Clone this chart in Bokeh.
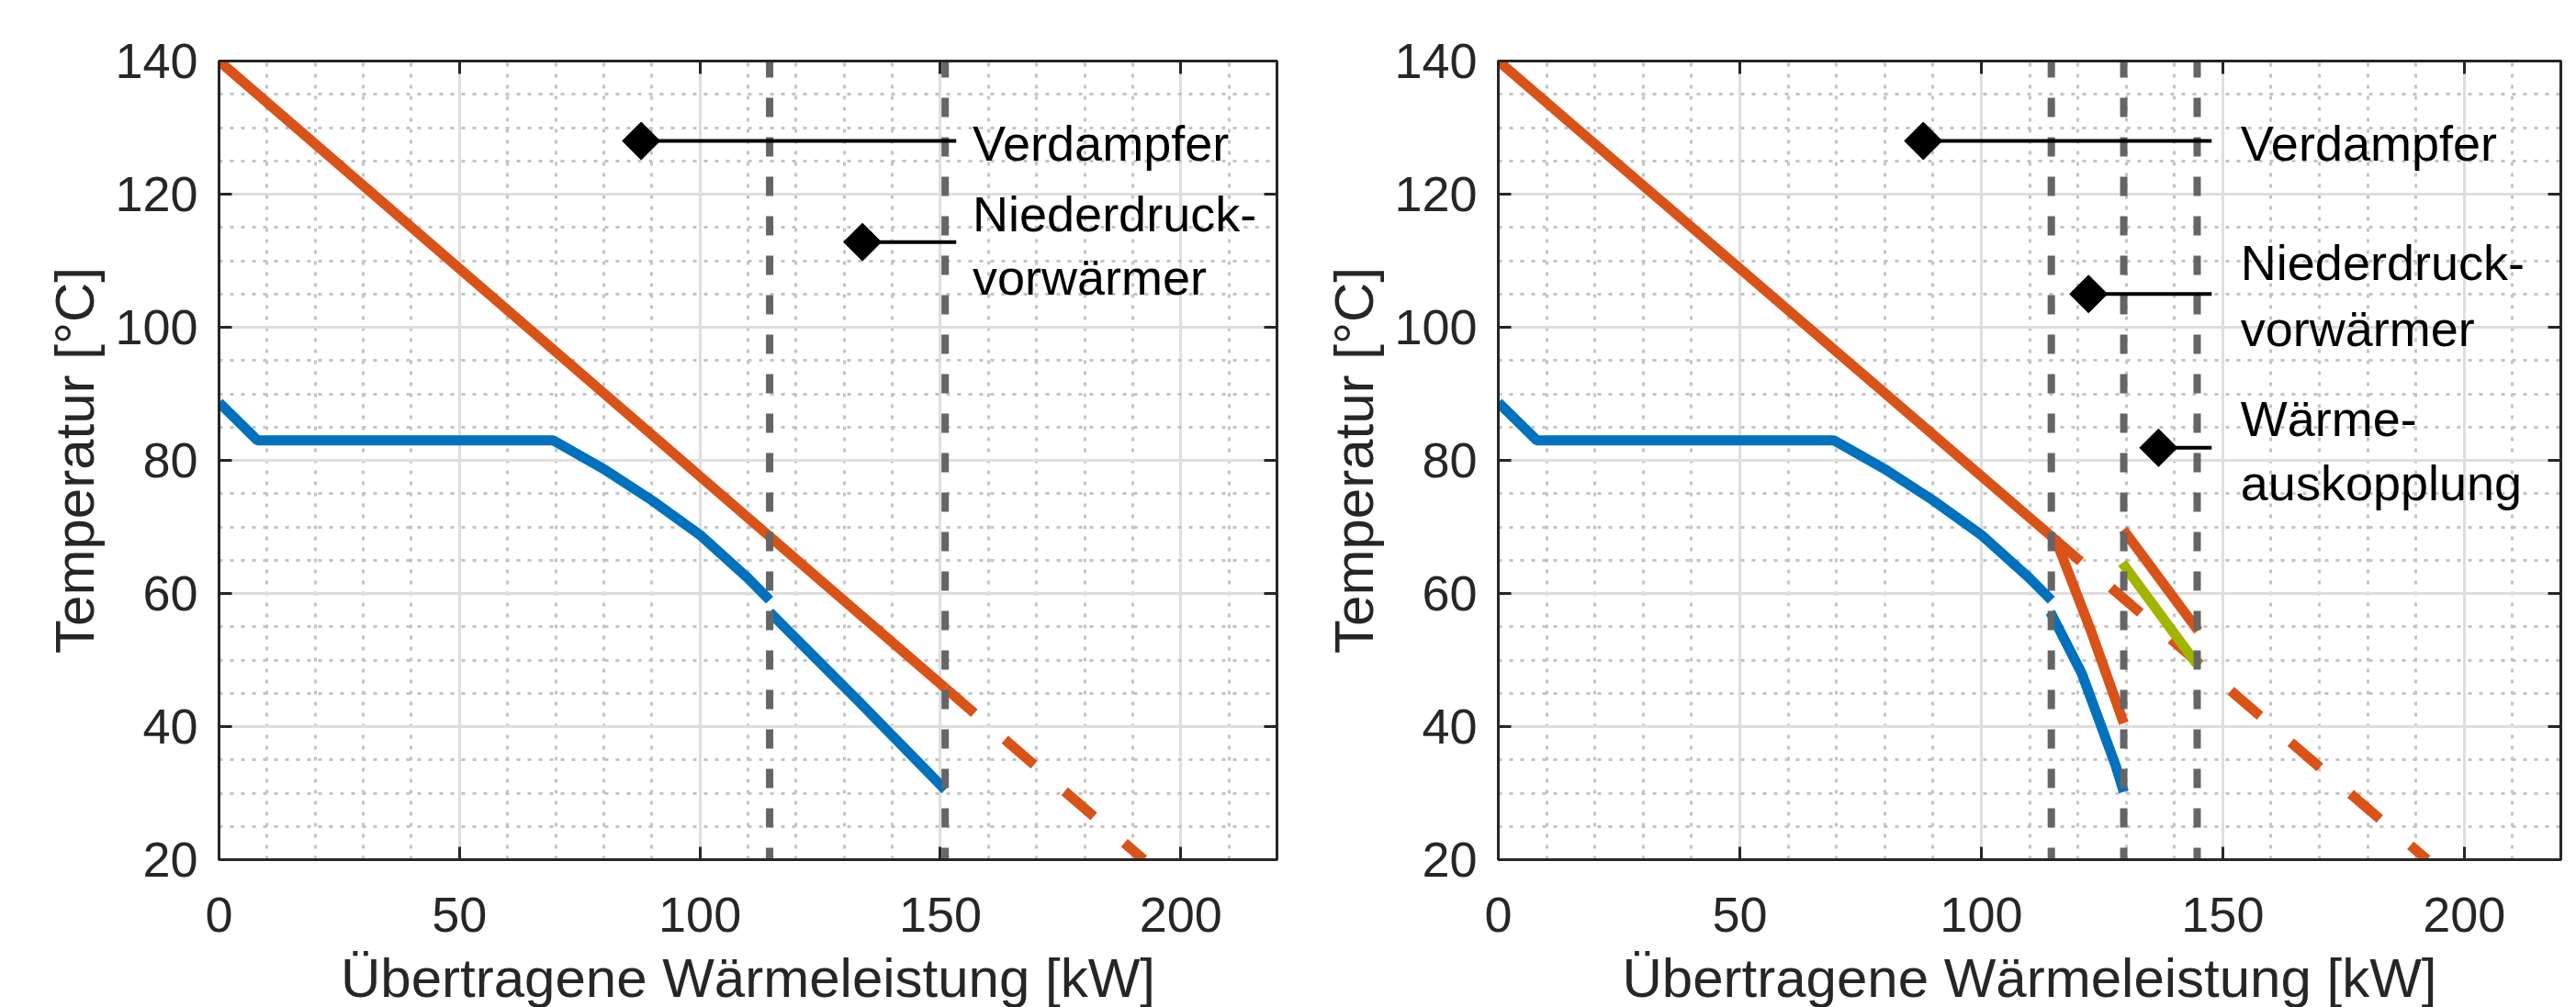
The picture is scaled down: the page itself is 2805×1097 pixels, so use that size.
import math
from bokeh.plotting import figure
from bokeh.layouts import row
from bokeh.models import Range1d, SingleIntervalTicker, LinearAxis
from bokeh.embed import file_html
from bokeh.resources import INLINE
from bokeh.core.properties import value

FONT = "Liberation Sans"
ORANGE = "#D95319"
BLUE = "#0072BD"
GREEN = "#A3B400"
GRAY = "#656565"
AX = "#262626"
LW = 11

X_RANGE = (0, 220)
Y_RANGE = (20, 140)
X_LABEL = "Übertragene Wärmeleistung [kW]"
Y_LABEL = "Temperatur [°C]"

# ---------------- left panel ----------------
L_hot_x = [0, 151]
L_hot_y = [140, 45.8]
L_hot_ext_x = [151, 192.3]
L_hot_ext_y = [45.8, 20]
L_cold_evap_x = [0, 8, 69.5, 80, 90, 100, 110, 114.5]
L_cold_evap_y = [88.7, 83, 83, 78.7, 74, 68.8, 62.3, 59]
L_cold_pre_x = [114.5, 133, 151]
L_cold_pre_y = [57.2, 43.8, 30.5]
L_cuts = [114.5, 151]
L_ann_marker_x = [87.8, 133.8]
L_ann_y = [128, 112.8]
L_ann_end_x = [153.3, 153.3]
L_text = ["Verdampfer", "Niederdruck-", "vorwärmer"]
L_text_x = [156.7, 156.7, 156.7]
L_text_y = [127.6, 117.1, 107.5]

# ---------------- right panel ----------------
R_hot_x = [0, 114.5]
R_hot_y = [140, 68.6]
R_hot_ext_x = [114.5, 192.3]
R_hot_ext_y = [68.6, 20]
R_hot_lp_x = [115.3, 122.7, 129.5]
R_hot_lp_y = [68.3, 54.4, 40.5]
R_hot_hx_x = [129.4, 144.9]
R_hot_hx_y = [69.6, 54.4]
R_heat_x = [129.2, 144.6]
R_heat_y = [64.6, 49.4]
R_cold_evap_x = [0, 8, 69.5, 80, 90, 100, 110, 114.5]
R_cold_evap_y = [88.7, 83, 83, 78.7, 74, 68.8, 62.3, 59]
R_cold_pre_x = [114.3, 120.8, 127.8, 129.5]
R_cold_pre_y = [57.2, 48.0, 34.2, 30.2]
R_cuts = [114.5, 129.5, 144.7]
R_ann_marker_x = [88, 122.2, 136.7]
R_ann_y = [128, 105, 81.9]
R_ann_end_x = [147.7, 147.7, 147.7]
R_text = ["Verdampfer", "Niederdruck-", "vorwärmer", "Wärme-", "auskopplung"]
R_text_x = [153.7, 153.7, 153.7, 153.7, 153.7]
R_text_y = [127.6, 109.7, 99.8, 86.25, 76.6]


def style_axis(ax, standoff, labels=True):
    ax.axis_line_color = AX
    ax.axis_line_width = 3
    ax.major_tick_in = 14
    ax.major_tick_out = 0
    ax.major_tick_line_width = 3
    ax.major_tick_line_color = AX
    ax.minor_tick_line_color = None
    ax.major_label_standoff = standoff
    ax.major_label_text_font = FONT
    if labels:
        ax.major_label_text_color = AX
        ax.major_label_text_font_size = "54px"
    else:
        ax.major_label_text_color = None
        ax.major_label_text_font_size = "1px"


def label_axis(ax, text, standoff):
    ax.axis_label = text
    ax.axis_label_text_font = FONT
    ax.axis_label_text_font_size = "60px"
    ax.axis_label_text_font_style = "normal"
    ax.axis_label_text_color = AX
    ax.axis_label_standoff = standoff


def make_panel(min_left, frame_w, min_right):
    p = figure(frame_width=frame_w, frame_height=870,
               x_range=Range1d(*X_RANGE), y_range=Range1d(*Y_RANGE),
               output_backend="svg", toolbar_location=None,
               min_border_left=min_left, min_border_right=min_right,
               min_border_top=66, min_border_bottom=161,
               background_fill_color="white", border_fill_color="white",
               outline_line_color=AX, outline_line_width=3)
    xt = SingleIntervalTicker(interval=50, num_minor_ticks=5)
    yt = SingleIntervalTicker(interval=20, num_minor_ticks=4)
    p.xaxis.ticker = xt
    p.yaxis.ticker = yt
    p.xgrid.ticker = xt
    p.ygrid.ticker = yt
    for g in (p.xgrid, p.ygrid):
        g.grid_line_color = "#dedede"
        g.grid_line_width = 3
        g.minor_grid_line_color = "#c4c4c4"
        g.minor_grid_line_width = 3
        g.minor_grid_line_dash = "4 8"
    style_axis(p.xaxis[0], 37)
    style_axis(p.yaxis[0], 19)
    label_axis(p.xaxis[0], X_LABEL, 14)
    label_axis(p.yaxis[0], Y_LABEL, 7)
    top = LinearAxis(ticker=xt)
    style_axis(top, 0, labels=False)
    p.add_layout(top, "above")
    right = LinearAxis(ticker=yt)
    style_axis(right, 0, labels=False)
    p.add_layout(right, "right")
    return p


def annotate(p, mx, my, ex, tx, ty, texts):
    p.segment(x0=mx, y0=my, x1=ex, y1=my, line_color="black", line_width=4)
    p.scatter(mx, my, marker="square", angle=math.pi / 4, size=29,
              fill_color="black", line_color="black")
    p.text(x=tx, y=ty, text=texts, text_font=value(FONT),
           text_font_size="54px", text_baseline="middle",
           text_align="left", text_color="black")


def cuts(p, xs):
    n = len(xs)
    p.segment(x0=xs, y0=[Y_RANGE[1]] * n, x1=xs, y1=[Y_RANGE[0]] * n,
              line_color=GRAY, line_width=8, line_dash="21 22",
              line_dash_offset=3)


# left figure
p1 = make_panel(238, 1152, 11)
p1.line(L_hot_x, L_hot_y, line_color=ORANGE, line_width=LW)
p1.line(L_hot_ext_x, L_hot_ext_y, line_color=ORANGE, line_width=LW,
        line_dash="42 44")
p1.line(L_cold_evap_x, L_cold_evap_y, line_color=BLUE, line_width=LW)
p1.line(L_cold_pre_x, L_cold_pre_y, line_color=BLUE, line_width=LW)
cuts(p1, L_cuts)
annotate(p1, L_ann_marker_x, L_ann_y, L_ann_end_x, L_text_x, L_text_y, L_text)

# right figure
p2 = make_panel(230, 1157, 17)
p2.line(R_hot_x, R_hot_y, line_color=ORANGE, line_width=LW)
p2.line(R_hot_ext_x, R_hot_ext_y, line_color=ORANGE, line_width=LW,
        line_dash="42 44")
p2.line(R_hot_lp_x, R_hot_lp_y, line_color=ORANGE, line_width=LW)
p2.line(R_hot_hx_x, R_hot_hx_y, line_color=ORANGE, line_width=LW)
p2.line(R_heat_x, R_heat_y, line_color=GREEN, line_width=LW)
p2.line(R_cold_evap_x, R_cold_evap_y, line_color=BLUE, line_width=LW)
p2.line(R_cold_pre_x, R_cold_pre_y, line_color=BLUE, line_width=LW)
cuts(p2, R_cuts)
annotate(p2, R_ann_marker_x, R_ann_y, R_ann_end_x, R_text_x, R_text_y, R_text)

layout = row(p1, p2)
open("out.html", "w").write(file_html(layout, INLINE))
